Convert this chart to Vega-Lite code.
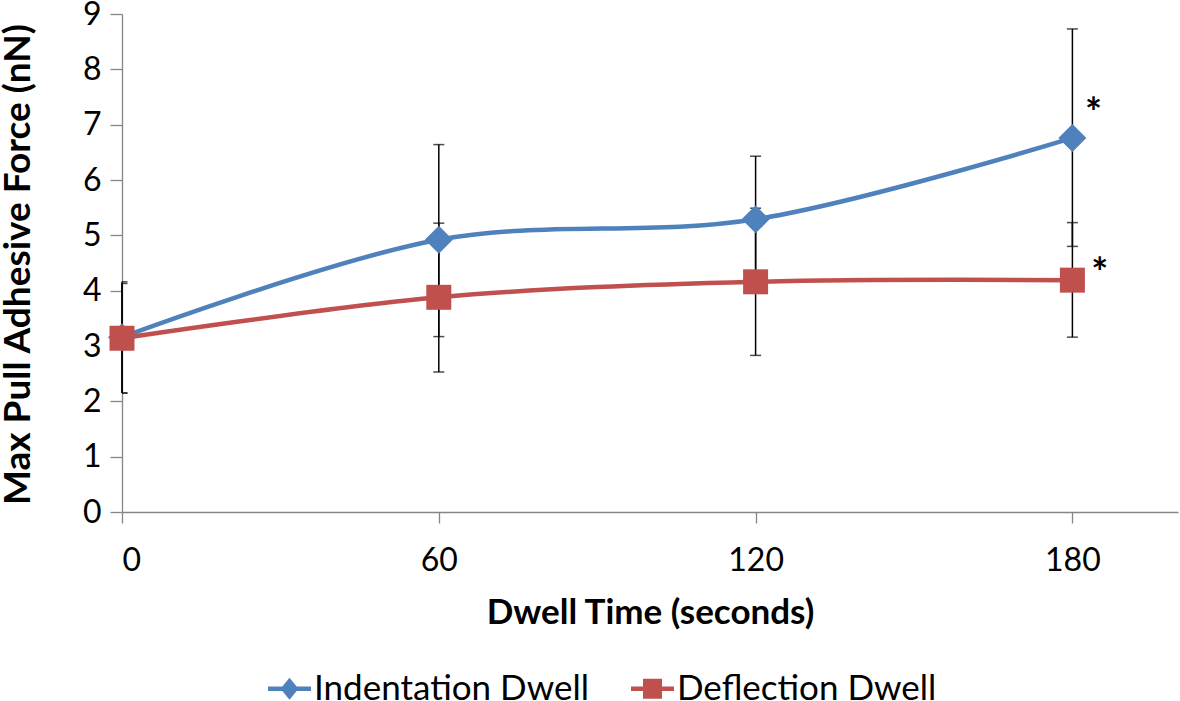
{
  "$schema": "https://vega.github.io/schema/vega-lite/v6.json",
  "width": 1056,
  "height": 498,
  "autosize": {"type": "none"},
  "padding": {"left": 122, "top": 14, "right": 2, "bottom": 189},
  "background": "white",
  "config": {
    "view": {"stroke": null},
    "font": "Lato",
    "axis": {"grid": false, "domainColor": "#868686", "tickColor": "#868686", "domainWidth": 1.3, "tickWidth": 1.3, "labelColor": "black", "titleColor": "black", "labelFont": "Lato", "titleFont": "Lato"}
  },
  "datasets": {
    "pts": [
      {"series": "Indentation Dwell", "time": 0, "force": 3.16, "lo": 2.15, "hi": 4.16},
      {"series": "Indentation Dwell", "time": 60, "force": 4.92, "lo": 3.17, "hi": 6.64},
      {"series": "Indentation Dwell", "time": 120, "force": 5.29, "lo": 4.16, "hi": 6.43},
      {"series": "Indentation Dwell", "time": 180, "force": 6.76, "lo": 4.80, "hi": 8.73},
      {"series": "Deflection Dwell", "time": 0, "force": 3.14, "lo": 2.15, "hi": 4.13},
      {"series": "Deflection Dwell", "time": 60, "force": 3.88, "lo": 2.53, "hi": 5.22},
      {"series": "Deflection Dwell", "time": 120, "force": 4.16, "lo": 2.83, "hi": 5.49},
      {"series": "Deflection Dwell", "time": 180, "force": 4.19, "lo": 3.16, "hi": 5.23}
    ],
    "stars": [
      {"time": 184, "force": 7.36, "label": "*"},
      {"time": 185.2, "force": 4.47, "label": "*"}
    ]
  },
  "layer": [
    {
      "data": {"name": "pts"},
      "mark": {"type": "rule", "color": "black", "strokeWidth": 1.5},
      "encoding": {
        "x": {"field": "time", "type": "quantitative", "scale": {"domain": [0, 200], "nice": false}},
        "y": {"field": "lo", "type": "quantitative"},
        "y2": {"field": "hi"}
      }
    },
    {
      "data": {"name": "pts"},
      "mark": {"type": "tick", "color": "black", "orient": "horizontal", "size": 11, "thickness": 1.5, "clip": true},
      "encoding": {
        "x": {"field": "time", "type": "quantitative"},
        "y": {"field": "lo", "type": "quantitative"}
      }
    },
    {
      "data": {"name": "pts"},
      "mark": {"type": "tick", "color": "black", "orient": "horizontal", "size": 11, "thickness": 1.5, "clip": true},
      "encoding": {
        "x": {"field": "time", "type": "quantitative"},
        "y": {"field": "hi", "type": "quantitative"}
      }
    },
    {
      "data": {"name": "pts"},
      "mark": {"type": "line", "interpolate": "catmull-rom", "strokeWidth": 4.5},
      "encoding": {
        "x": {
          "field": "time", "type": "quantitative",
          "axis": {"values": [0, 60, 120, 180], "title": "Dwell Time (seconds)", "labelFontSize": 32, "labelPadding": 22, "tickSize": 11, "titleFontSize": 35, "titleFontWeight": "bold", "titleX": 528, "titleY": 100, "titleBaseline": "middle", "titleAlign": "center"}
        },
        "y": {
          "field": "force", "type": "quantitative",
          "scale": {"domain": [0, 9], "nice": false},
          "axis": {"values": [0, 1, 2, 3, 4, 5, 6, 7, 8, 9], "format": "d", "title": "Max Pull Adhesive Force (nN)", "labelFontSize": 32, "labelPadding": 9, "tickSize": 12, "labelBaseline": "middle", "titleFontSize": 37, "titleFontWeight": "bold", "titleX": -104, "titleY": 250, "titleAngle": -90, "titleBaseline": "middle", "titleAlign": "center", "titleLimit": 0}
        },
        "color": {
          "field": "series", "type": "nominal",
          "scale": {"domain": ["Indentation Dwell", "Deflection Dwell"], "range": ["#4F81BD", "#C0504D"]},
          "legend": {
            "title": null, "orient": "none", "direction": "horizontal",
            "legendX": 150, "legendY": 657,
            "labelFontSize": 35, "labelFont": "Lato", "labelColor": "black", "labelLimit": 0,
            "symbolSize": 400, "labelOffset": 7, "columnPadding": 42,
            "symbolStrokeWidth": 0,
            "encode": {
              "symbols": {
                "update": {
                  "shape": {"signal": "datum.value === 'Indentation Dwell' ? 'M-2.15,-0.22L2.15,-0.22L2.15,0.22L-2.15,0.22ZM-0.9,0L0,-1.1L0.9,0L0,1.1Z' : 'M-2.15,-0.22L2.15,-0.22L2.15,0.22L-2.15,0.22ZM-0.95,-1L0.95,-1L0.95,1L-0.95,1Z'"},
                  "fill": {"scale": "color", "field": "value"},
                  "stroke": {"value": "transparent"},
                  "strokeWidth": {"value": 0},
                  "fillOpacity": {"value": 1},
                  "opacity": {"value": 1}
                }
              }
            }
          }
        }
      }
    },
    {
      "data": {"name": "pts"},
      "transform": [{"filter": "datum.series === 'Indentation Dwell'"}],
      "mark": {"type": "point", "filled": true, "opacity": 1, "shape": "diamond", "size": 784},
      "encoding": {
        "x": {"field": "time", "type": "quantitative"},
        "y": {"field": "force", "type": "quantitative"},
        "color": {"field": "series", "type": "nominal", "legend": null}
      }
    },
    {
      "data": {"name": "pts"},
      "transform": [{"filter": "datum.series === 'Deflection Dwell'"}],
      "mark": {"type": "point", "filled": true, "opacity": 1, "shape": "square", "size": 625},
      "encoding": {
        "x": {"field": "time", "type": "quantitative"},
        "y": {"field": "force", "type": "quantitative"},
        "color": {"field": "series", "type": "nominal", "legend": null}
      }
    },
    {
      "data": {"name": "stars"},
      "mark": {"type": "text", "fontSize": 40, "fontWeight": "bold", "font": "Lato", "color": "black", "baseline": "middle", "align": "center", "dy": 10},
      "encoding": {
        "x": {"field": "time", "type": "quantitative"},
        "y": {"field": "force", "type": "quantitative"},
        "text": {"field": "label"}
      }
    }
  ]
}
